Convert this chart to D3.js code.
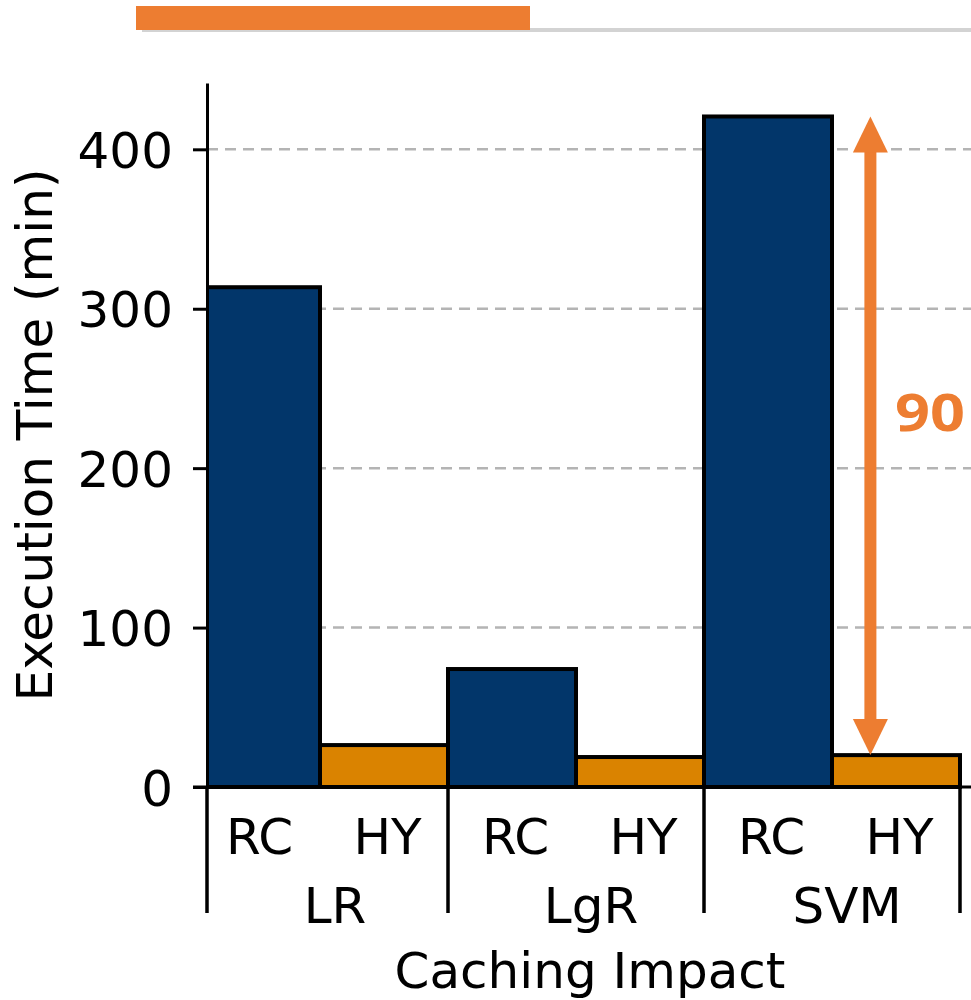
<!DOCTYPE html>
<html>
<head>
<meta charset="utf-8">
<script src="https://cdn.jsdelivr.net/npm/d3@7"></script>
<style>
    body{ margin:0; background:#fff; }
    text{ font-family:"DejaVu Sans", sans-serif; fill:#000; }
    .axis text{ font-size:50px; }
    .axis path, .axis line{ stroke:#000; stroke-width:3; }
    .grid line{ stroke:#b4b4b4; stroke-width:2.5; stroke-dasharray:11 7; }
</style>
</head>
<body>
<svg id="chart" width="971" height="1000"></svg>
<script>
// chart values
const groups = ['LR', 'LgR', 'SVM'];
const methods = ['RC', 'HY'];
const rcValues = [313.5, 74, 420.6];
const hyValues = [26.3, 18.8, 20];
const yTicks = [0, 100, 200, 300, 400];
const yMax = 441.6;
const gapLabel = '90';

const colors = {RC: '#02366a', HY: '#da8300', arrow: '#ed7d31'};

// plot frame
const plot = {l: 207, r: 973, t: 83, b: 787};

let svg = d3.select('#chart');

// decorative header strip
svg.append('rect').attr('x', 142).attr('y', 28).attr('width', 829).attr('height', 4).attr('fill', '#d3d3d3');
svg.append('rect').attr('x', 136).attr('y', 6).attr('width', 394).attr('height', 24).attr('fill', colors.arrow);

// flatten values to bars
let bars = [];
groups.forEach((g, gi) => {
    bars.push({group: g, method: 'RC', value: rcValues[gi], idx: gi * 2});
    bars.push({group: g, method: 'HY', value: hyValues[gi], idx: gi * 2 + 1});
});

//scales
let scaleX = d3.scaleLinear()
    .domain([-0.5, 5.5])
    .range([192, 960]);

let scaleY = d3.scaleLinear()
    .domain([0, yMax])
    .range([plot.b, plot.t]);

svg.append('clipPath').attr('id', 'plotClip')
    .append('rect')
    .attr('x', plot.l).attr('y', 0)
    .attr('width', plot.r - plot.l).attr('height', plot.b + 10);

//grid
svg.append('g')
    .attr('class', 'grid')
    .selectAll('line')
    .data(yTicks.filter(d => d > 0))
    .join('line')
    .attr('x1', plot.l)
    .attr('x2', plot.r)
    .attr('y1', d => scaleY(d))
    .attr('y2', d => scaleY(d));

//bars
svg.append('g')
    .attr('clip-path', 'url(#plotClip)')
    .selectAll('rect')
    .data(bars)
    .join('rect')
    .attr('x', d => scaleX(d.idx - 0.5))
    .attr('y', d => scaleY(d.value))
    .attr('width', d => scaleX(d.idx + 0.5) - scaleX(d.idx - 0.5))
    .attr('height', d => scaleY(0) - scaleY(d.value))
    .attr('fill', d => colors[d.method])
    .attr('stroke', '#000')
    .attr('stroke-width', 4);

//y axis
let axisY = d3.axisLeft(scaleY)
    .tickValues(yTicks)
    .tickSize(14)
    .tickSizeOuter(0)
    .tickPadding(20);

let axisYG = svg.append('g')
    .attr('class', 'axis axis-y')
    .attr('transform', `translate(${plot.l}, 0)`)
    .call(axisY);
axisYG.selectAll('text').attr('dy', '0.36em');

//x axis (bar labels)
let axisX = d3.axisBottom(scaleX)
    .tickValues(bars.map(d => d.idx))
    .tickFormat(i => methods[i % 2])
    .tickSize(0)
    .tickSizeOuter(0)
    .tickPadding(31);

let axisXG = svg.append('g')
    .attr('class', 'axis axis-x')
    .attr('transform', `translate(0, ${plot.b})`)
    .call(axisX);
axisXG.select('.domain').attr('d', `M${plot.l - 14},0H${plot.r}`);
axisXG.selectAll('.tick text').attr('dx', 3);

//group separators
let bounds = [-0.5, 1.5, 3.5, 5.5];
svg.append('g')
    .selectAll('line')
    .data(bounds)
    .join('line')
    .attr('x1', d => Math.max(scaleX(d), plot.l))
    .attr('x2', d => Math.max(scaleX(d), plot.l))
    .attr('y1', plot.b)
    .attr('y2', 913)
    .attr('stroke', '#000')
    .attr('stroke-width', 3.5);

//group labels
svg.append('g')
    .selectAll('text')
    .data(groups)
    .join('text')
    .attr('x', (d, i) => scaleX(i * 2 + 0.5) + 15)
    .attr('y', 923)
    .attr('text-anchor', 'middle')
    .style('font-size', '50px')
    .text(d => d);

//axis titles
svg.append('text')
    .attr('x', (plot.l + plot.r) / 2)
    .attr('y', 988)
    .attr('text-anchor', 'middle')
    .style('font-size', '50px')
    .text('Caching Impact');

svg.append('text')
    .attr('transform', `translate(52, ${(plot.t + plot.b) / 2}) rotate(-90)`)
    .attr('text-anchor', 'middle')
    .style('font-size', '50px')
    .text('Execution Time (min)');

//double arrow between SVM bars
let arrowX = scaleX(4.8);
let yTop = scaleY(rcValues[2]);
let yBot = scaleY(hyValues[2]);
let headL = 36, headW = 35, shaftW = 12;
let arrowG = svg.append('g').attr('fill', colors.arrow);
arrowG.append('rect')
    .attr('x', arrowX - shaftW / 2)
    .attr('y', yTop + headL - 1)
    .attr('width', shaftW)
    .attr('height', yBot - yTop - 2 * headL + 2);
arrowG.append('path')
    .attr('d', `M${arrowX},${yTop}L${arrowX + headW / 2},${yTop + headL}L${arrowX - headW / 2},${yTop + headL}Z`);
arrowG.append('path')
    .attr('d', `M${arrowX},${yBot}L${arrowX + headW / 2},${yBot - headL}L${arrowX - headW / 2},${yBot - headL}Z`);

svg.append('text')
    .attr('x', 895)
    .attr('y', 431)
    .attr('textLength', 70)
    .attr('lengthAdjust', 'spacingAndGlyphs')
    .style('font-family', '"Open Sans", sans-serif')
    .style('font-weight', 700)
    .style('font-size', '52px')
    .style('fill', colors.arrow)
    .text(gapLabel);
</script>
</body>
</html>
